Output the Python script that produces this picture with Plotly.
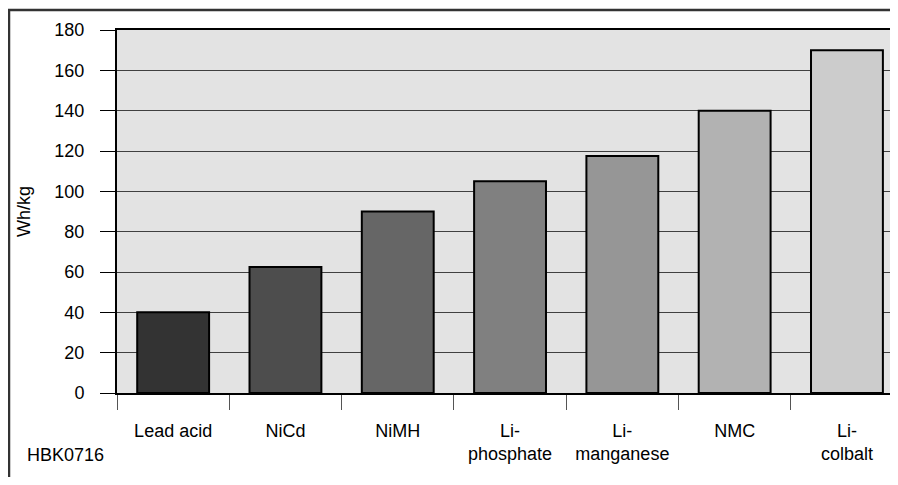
import plotly.graph_objects as go

categories = ["Lead acid", "NiCd", "NiMH", "Li-<br>phosphate", "Li-<br>manganese", "NMC", "Li-<br>colbalt"]
energy_wh_kg = [40, 62.5, 90, 105, 117.5, 140, 170]
bar_colors = ["#333333", "#4d4d4d", "#666666", "#808080", "#969696", "#b2b2b2", "#cccccc"]
y_ticks = [0, 20, 40, 60, 80, 100, 120, 140, 160, 180]

FONT = "Liberation Sans, Arial, sans-serif"

# figure is placed inside the page's 8px body margin
W, H = 882, 469
L, T, B = 109, 22, 84
PW, PH = W - L, H - T - B

fig = go.Figure()
fig.add_trace(go.Bar(
    x=categories,
    y=energy_wh_kg,
    marker=dict(color=bar_colors, line=dict(color="black", width=2)),
    showlegend=False,
))

fig.update_layout(
    width=W, height=H,
    margin=dict(l=L, r=0, t=T, b=B, autoexpand=False),
    paper_bgcolor="white",
    plot_bgcolor="#e3e3e3",
    bargap=0.36,
    font=dict(family=FONT, size=18, color="black"),
    xaxis=dict(
        range=[-0.5, -0.5 + PW / 112.3],
        showline=True, mirror=True, linecolor="black", linewidth=2,
        ticks="outside", tickson="boundaries", ticklen=15, tickcolor="#555555", tickwidth=1,
        ticklabelstandoff=20,
        showgrid=False,
        automargin=False,
        tickfont=dict(family=FONT, size=18),
    ),
    yaxis=dict(
        range=[0, 180],
        tickvals=y_ticks,
        showline=True, linecolor="black", linewidth=2,
        ticks="outside", ticklen=15, tickcolor="black", tickwidth=1,
        ticklabelstandoff=12,
        showgrid=True, gridcolor="#404040", gridwidth=1,
        zeroline=False,
        automargin=False,
        title=dict(text="Wh/kg", standoff=19, font=dict(family=FONT, size=18)),
        tickfont=dict(family=FONT, size=18),
    ),
    shapes=[dict(
        type="rect", xref="paper", yref="paper",
        x0=(1 - L) / PW, x1=1.3, y0=-0.5, y1=(T + PH - 2) / PH,
        line=dict(color="#333333", width=2.5), fillcolor="rgba(0,0,0,0)", layer="above",
    )],
    annotations=[dict(
        text="HBK0716", xref="paper", yref="paper",
        x=(17 - L) / PW, y=(T + PH - 447) / PH,
        xanchor="left", yanchor="middle", showarrow=False,
        font=dict(family=FONT, size=18, color="black"),
    )],
)

fig.write_html("out.html")
